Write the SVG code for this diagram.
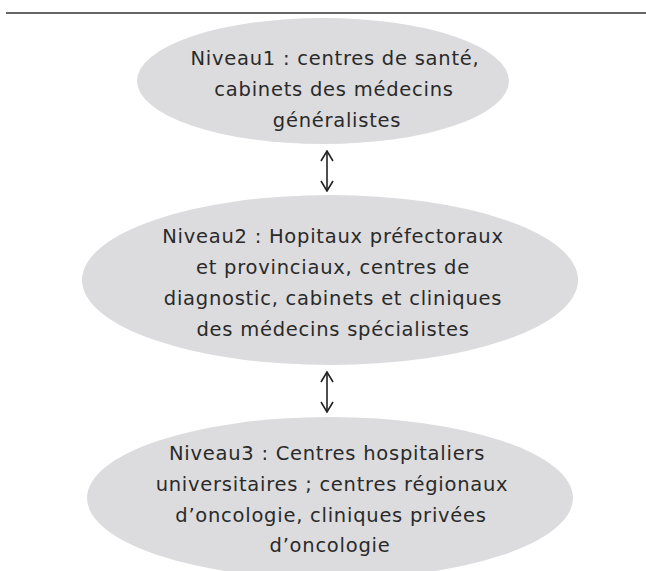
<svg xmlns="http://www.w3.org/2000/svg" width="646" height="571" viewBox="0 0 646 571">
<style>
.node ellipse{fill:#dcdcde;stroke:none}
.node text{font-family:"DejaVu Sans","Liberation Sans",sans-serif;font-size:19.5px;letter-spacing:0.75px;fill:#2a2a2a;text-anchor:middle}
.conn line{stroke:#222;stroke-width:1.6;fill:none}
</style>
<defs>
<marker id="ah" viewBox="0 0 12 14" refX="11" refY="7" markerWidth="12" markerHeight="14" markerUnits="userSpaceOnUse" orient="auto-start-reverse">
<path d="M1,1 L11,7 L1,13" fill="none" stroke="#222" stroke-width="1.6"/>
</marker>
</defs>
<rect width="646" height="571" fill="#fff"/>
<line x1="6" y1="13" x2="646" y2="13" stroke="#333" stroke-width="1.6"/>
<g id="niveau1" class="node">
<ellipse cx="323" cy="81" rx="186" ry="63"/>
<text x="335" y="65">Niveau1 : centres de santé,</text>
<text x="334" y="96">cabinets des médecins</text>
<text x="337" y="127">généralistes</text>
</g>
<g id="niveau2" class="node">
<ellipse cx="330" cy="280" rx="248" ry="85"/>
<text x="333" y="243">Niveau2 : Hopitaux préfectoraux</text>
<text x="333" y="274">et provinciaux, centres de</text>
<text x="333" y="305">diagnostic, cabinets et cliniques</text>
<text x="333" y="336">des médecins spécialistes</text>
</g>
<g id="niveau3" class="node">
<ellipse cx="330" cy="498" rx="243" ry="81"/>
<text x="327" y="460">Niveau3 : Centres hospitaliers</text>
<text x="332" y="491">universitaires ; centres régionaux</text>
<text x="331" y="522">d’oncologie, cliniques privées</text>
<text x="330" y="552">d’oncologie</text>
</g>
<g id="connectors" class="conn">
<line x1="327" y1="151" x2="327" y2="191" marker-start="url(#ah)" marker-end="url(#ah)"/>
<line x1="327" y1="372" x2="327" y2="412" marker-start="url(#ah)" marker-end="url(#ah)"/>
</g>
</svg>
